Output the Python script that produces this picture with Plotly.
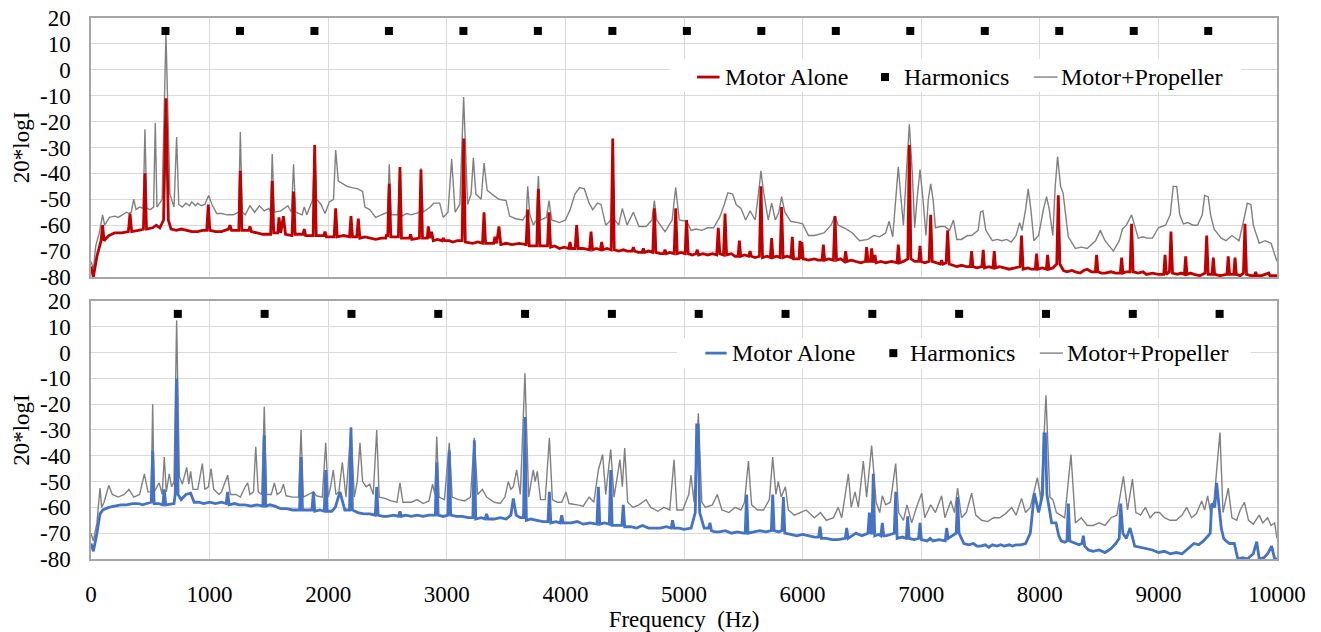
import plotly.graph_objects as go

# ---------------- data ----------------
freq_ticks = [0, 1000, 2000, 3000, 4000, 5000, 6000, 7000, 8000, 9000, 10000]
freq_tick_labels = ["0", "1000", "2000", "3000", "4000", "5000", "6000", "7000", "8000", "9000", "10000"]
db_ticks = [20, 10, 0, -10, -20, -30, -40, -50, -60, -70, -80]
db_tick_labels = ["20", "10", "0", "-10", "-20", "-30", "-40", "-50", "-60", "-70", "-80"]

harmonics_top_f = [628, 1256, 1884, 2512, 3140, 3768, 4396, 5024, 5652, 6280, 6908, 7536, 8164, 8792, 9420]
harmonics_top_db = [15, 15, 15, 15, 15, 15, 15, 15, 15, 15, 15, 15, 15, 15, 15]
harmonics_bot_f = [732, 1464, 2196, 2928, 3660, 4392, 5124, 5856, 6588, 7320, 8052, 8784, 9516]
harmonics_bot_db = [15, 15, 15, 15, 15, 15, 15, 15, 15, 15, 15, 15, 15]

# (frequency Hz, 20*logI)
motor_alone_top = [
    (0, -76), (20, -80), (50, -72), (85, -66), (98, -60), (110, -66), (150, -64), (200, -63), (260, -63),
    (315, -62.5), (329, -55.5), (343, -62.5), (400, -62), (442, -61.5), (455, -40), (468, -61.5), (520, -61),
    (550, -60), (580, -61), (612, -58), (632, -11), (652, -58), (675, -61.5), (720, -62), (760, -61.5), (800, -62),
    (850, -62.5), (900, -62.5), (940, -62), (976, -62), (989, -52), (1002, -62), (1050, -62.5), (1100, -62.5),
    (1160, -61.5), (1172, -60), (1185, -62), (1246, -62), (1259, -39), (1272, -62), (1330, -62), (1340, -60.5),
    (1352, -62.5), (1400, -63), (1450, -63.5), (1515, -63.5),
    (1528, -43), (1541, -63), (1575, -63), (1585, -57), (1600, -63), (1622, -56.5), (1640, -63.5), (1695, -64),
    (1708, -47), (1721, -63.5), (1788, -63.5), (1798, -61.5), (1810, -64), (1873, -64), (1886, -29), (1899, -64),
    (1963, -64), (1973, -62.5), (1985, -64.5), (2050, -64.5), (2063, -53.5), (2076, -64.5), (2130, -64),
    (2180, -64.5), (2192, -56.5), (2205, -64.5), (2241, -64.5), (2254, -57.5), (2267, -65), (2310, -64.5),
    (2350, -65), (2400, -65.5), (2450, -65),
    (2485, -65), (2493, -63.5), (2502, -64.5), (2515, -44), (2528, -64.5), (2592, -64.5), (2605, -37.5),
    (2618, -65), (2685, -65), (2695, -63.5), (2705, -65.5), (2769, -65), (2782, -38.5), (2795, -65), (2835, -65),
    (2844, -60.5), (2858, -65), (2872, -62.5), (2886, -66), (2920, -65.5), (2960, -66), (2970, -65), (2982, -66),
    (3020, -66), (3050, -66.5), (3090, -66),
    (3129, -66), (3142, -26.5), (3156, -66.5), (3220, -67), (3260, -66.5), (3301, -67), (3314, -55), (3327, -67),
    (3360, -67), (3395, -67),
    (3406, -64.5), (3420, -67), (3440, -60.5), (3455, -67.5), (3500, -67), (3550, -67.5), (3610, -67),
    (3669, -67.5), (3682, -54),
    (3695, -68), (3759, -68), (3772, -46), (3785, -68), (3849, -68), (3862, -55), (3875, -68.5), (3910, -68),
    (3950, -69), (3990, -68.5),
    (4028, -69), (4039, -66.5), (4050, -69), (4082, -69), (4095, -60), (4108, -69), (4150, -69), (4203, -69.5),
    (4216, -62.5), (4229, -69.5), (4260, -69), (4295, -69.5), (4306, -66.5), (4317, -69.5), (4350, -69),
    (4386, -69.5), (4399, -26.5), (4412, -69.5), (4450, -70),
    (4488, -69.5), (4520, -70), (4562, -70), (4573, -68.5), (4584, -70), (4615, -70.5), (4646, -70.5),
    (4657, -69), (4668, -70.5), (4700, -70),
    (4737, -70.5), (4750, -53.5), (4763, -70.5), (4800, -71), (4829, -71), (4840, -69.5), (4851, -71),
    (4880, -70.5), (4917, -71),
    (4930, -53.5), (4943, -71), (4975, -70.5), (5009, -71), (5022, -58), (5035, -71), (5070, -71.5), (5101, -71),
    (5112, -69.5), (5123, -71.5), (5160, -71), (5200, -71.5), (5240, -71), (5276, -71.5), (5289, -61),
    (5302, -71), (5333, -71.5), (5346, -55.5), (5359, -71.5), (5400, -71), (5430, -72),
    (5456, -72), (5467, -66), (5478, -72), (5510, -71.5), (5546, -72), (5557, -70), (5568, -72), (5600, -72.5),
    (5636, -72), (5649, -45),
    (5662, -72.5), (5700, -72), (5728, -72.5), (5739, -65), (5750, -72.5), (5780, -72), (5810, -72.5),
    (5823, -53), (5836, -72.5), (5870, -72),
    (5902, -72.5), (5913, -64.5), (5924, -73), (5970, -73), (5978, -66), (5986, -73), (5994, -66.5), (6005, -73),
    (6050, -73.5), (6100, -73), (6130, -73.5), (6164, -73.5), (6175, -67.5), (6186, -73.5), (6220, -73),
    (6260, -73.5), (6273, -56.5), (6286, -73.5), (6320, -73),
    (6352, -74), (6363, -70), (6374, -74), (6410, -73.5), (6450, -74), (6490, -74.5), (6530, -74), (6540, -68.5),
    (6552, -74), (6572, -74),
    (6582, -69), (6594, -74), (6602, -74), (6610, -71.5), (6620, -74.5), (6660, -74), (6700, -74.5),
    (6750, -74), (6796, -74.5),
    (6807, -67.5), (6818, -74.5), (6850, -74), (6887, -73), (6900, -29), (6913, -73), (6945, -74), (6979, -74),
    (6990, -68), (7001, -74),
    (7030, -74.5), (7067, -74), (7080, -56), (7093, -74), (7130, -74.5), (7161, -75), (7172, -73.5), (7183, -75),
    (7210, -74.5), (7223, -62),
    (7236, -75), (7270, -75.5), (7300, -76), (7340, -75.5), (7380, -76), (7414, -76), (7425, -70), (7436, -76),
    (7470, -76.5), (7512, -76), (7523, -69.5), (7534, -76.5), (7570, -76),
    (7605, -76.5), (7616, -70), (7627, -76.5), (7660, -76), (7700, -76.5), (7740, -77), (7790, -76.5),
    (7833, -76), (7846, -64), (7859, -77), (7900, -76.5), (7930, -77), (7962, -77),
    (7973, -71), (7984, -77), (8020, -76.5), (8055, -77), (8066, -71.5), (8077, -77), (8110, -76.5), (8143, -75),
    (8156, -48.5), (8169, -75),
    (8200, -77.5), (8230, -78), (8270, -77.5), (8300, -78), (8340, -78.5), (8370, -77.5), (8400, -77),
    (8435, -78), (8468, -78), (8479, -71.5), (8490, -78), (8520, -78.5), (8550, -78.5), (8600, -78),
    (8640, -78.5), (8679, -78.5),
    (8690, -72.5), (8701, -78.5), (8730, -78), (8761, -78), (8774, -59.5), (8787, -78), (8830, -78.5),
    (8870, -78), (8900, -79), (8950, -78.5), (9000, -79), (9045, -79),
    (9056, -71.5), (9067, -79), (9093, -78), (9106, -62.5), (9119, -78.5), (9160, -79), (9190, -78.5),
    (9219, -79), (9230, -72), (9241, -79),
    (9270, -78.5), (9300, -79), (9350, -79.5), (9394, -78.5), (9407, -64), (9420, -79), (9452, -79),
    (9463, -72.5), (9474, -79), (9520, -79.5), (9578, -79),
    (9589, -72), (9600, -79), (9635, -79), (9646, -72.5), (9657, -79), (9690, -79.5), (9717, -78.5),
    (9730, -59.5), (9743, -79),
    (9780, -79.5), (9810, -79.5), (9820, -78), (9830, -79.5), (9870, -79.5), (9900, -79), (9930, -78.5),
    (9940, -79.5), (10000, -79.5),
]

motor_prop_top = [
    (0, -74), (20, -77), (40, -68), (70, -63), (98, -56), (115, -60), (155, -57), (200, -56.5), (230, -57),
    (260, -56), (300, -55), (320, -55.5), (340, -55), (360, -50), (380, -54), (410, -53), (440, -53.5),
    (455, -23), (470, -53.5), (500, -54), (528, -53),
    (542, -20.5), (556, -53), (600, -50), (632, 14), (665, -48), (700, -53), (722, -26), (740, -52),
    (770, -53), (800, -51.5), (830, -52.5),
    (850, -51), (880, -52.5), (900, -51.5), (930, -52.5), (960, -52), (992, -48.5), (1020, -52), (1060, -55.5),
    (1100, -55.5), (1150, -56), (1200, -56),
    (1245, -55), (1259, -24), (1275, -55), (1300, -56), (1340, -52.5), (1380, -55), (1420, -52.5), (1460, -54.5),
    (1500, -53.5), (1515, -55), (1528, -32.5), (1545, -55), (1600, -54.5), (1660, -52.5), (1690, -55),
    (1708, -36.5), (1725, -55), (1780, -56), (1798, -53), (1820, -56), (1870, -50), (1886, -29), (1902, -50),
    (1940, -52), (1973, -55.5), (2010, -51), (2045, -50), (2063, -31), (2085, -43), (2120, -44), (2160, -45),
    (2200, -45.5), (2250, -46), (2290, -47), (2310, -53), (2350, -54), (2400, -57), (2450, -56), (2500, -55),
    (2515, -36.5), (2530, -56), (2590, -56), (2605, -37.5), (2620, -56.5), (2660, -55.5), (2700, -56),
    (2740, -55.5), (2770, -55), (2782, -38),
    (2800, -55), (2860, -53), (2890, -51.5), (2940, -51.5), (2970, -57), (3010, -55), (3041, -34.5), (3070, -55),
    (3110, -52), (3142, -10.5), (3175, -52), (3205, -48), (3224, -34), (3245, -48), (3290, -50), (3314, -36),
    (3340, -46.5), (3380, -48), (3440, -50), (3500, -50.5), (3530, -56.5), (3580, -57.5), (3640, -58),
    (3670, -56), (3682, -45), (3700, -56), (3730, -60), (3755, -58), (3772, -41), (3790, -58), (3840, -57),
    (3862, -50.5), (3885, -58), (3950, -59), (4000, -58), (4040, -54), (4080, -48), (4120, -45.5), (4160, -46),
    (4200, -51.5), (4230, -54), (4270, -51.5), (4300, -52), (4340, -60), (4385, -58), (4399, -34), (4415, -58),
    (4450, -60), (4480, -53.5), (4520, -60), (4573, -55), (4620, -60.5), (4680, -60.5), (4730, -58),
    (4750, -50.5), (4770, -58), (4840, -62.5), (4900, -58), (4930, -45.5), (4960, -58), (5022, -58.5),
    (5060, -62), (5100, -61.5), (5150, -62), (5200, -61), (5250, -61), (5300, -57), (5340, -52), (5370, -47.5),
    (5410, -48), (5440, -52),
    (5480, -53.5), (5520, -58), (5557, -54.5), (5600, -58), (5630, -47), (5649, -39), (5670, -47), (5710, -58),
    (5739, -51.5), (5770, -58), (5800, -55), (5823, -49), (5850, -55), (5900, -58.5), (5960, -59), (6000, -59.5),
    (6050, -64), (6100, -64), (6180, -63), (6240, -60), (6273, -56.5), (6300, -60), (6370, -61.5), (6420, -63),
    (6480, -66), (6550, -65.5), (6600, -64), (6650, -64.5), (6700, -63), (6730, -58.5), (6760, -64.5),
    (6785, -50), (6807, -37.5), (6830, -50), (6850, -60), (6875, -40), (6900, -21), (6925, -40), (6945, -61),
    (6965, -50), (6990, -38.5), (7015, -50), (7040, -64), (7060, -50), (7080, -44), (7100, -50), (7120, -61),
    (7160, -60.5), (7200, -60.5), (7240, -62), (7272, -58), (7300, -65.5), (7340, -65.5), (7390, -64),
    (7425, -64), (7480, -62), (7500, -55), (7520, -54.5), (7545, -62), (7600, -66), (7640, -65.5), (7680, -66),
    (7720, -65.5), (7760, -66.5),
    (7800, -64), (7830, -59), (7850, -62), (7880, -54), (7902, -46), (7925, -54), (7950, -66), (7990, -64),
    (8030, -54), (8057, -49), (8080, -54), (8110, -64), (8130, -45), (8150, -33.5), (8175, -45), (8196, -47.5),
    (8215, -56), (8240, -64.5), (8300, -69), (8350, -68.5), (8400, -69), (8470, -66), (8510, -62), (8550, -66),
    (8620, -70),
    (8670, -66), (8697, -61.5), (8730, -60), (8774, -56), (8800, -60), (8830, -65), (8870, -64.5), (8900, -65),
    (8950, -65), (9000, -61), (9060, -60), (9100, -56), (9125, -45), (9155, -45), (9180, -56), (9210, -59.5),
    (9250, -59),
    (9290, -60), (9330, -60), (9370, -56), (9390, -48.5), (9420, -49), (9440, -56), (9470, -61.5), (9530, -65),
    (9570, -66), (9620, -64), (9680, -66), (9720, -58), (9750, -51.5), (9780, -52), (9800, -60), (9850, -67),
    (9900, -66), (9950, -67), (10000, -74),
]

motor_alone_bot = [
    (0, -74), (20, -77), (50, -70), (76, -62.5), (100, -61), (150, -60), (200, -59.5), (250, -59), (300, -59),
    (350, -58.5), (400, -58.5), (435, -59), (470, -58.5), (508, -58), (520, -38), (532, -58.5), (570, -58.5),
    (606, -59), (618, -53),
    (630, -59), (700, -58.5), (710, -55), (722, -10), (734, -55), (760, -57), (800, -55), (840, -54.5),
    (870, -58), (910, -58), (950, -58.5), (1000, -58), (1050, -58.5), (1100, -58), (1140, -58.5), (1152, -54),
    (1164, -59), (1210, -58.5), (1250, -59), (1300, -59), (1350, -59.5), (1400, -59),
    (1449, -59.5), (1461, -32), (1473, -59.5), (1510, -59), (1550, -59.5), (1600, -60.5), (1650, -60.5),
    (1700, -61), (1759, -61),
    (1771, -40.5), (1783, -61), (1820, -61), (1863, -61), (1875, -54), (1887, -61.5), (1930, -61),
    (1967, -61.5), (1979, -45.5),
    (1991, -61.5), (2030, -61.5), (2060, -60), (2099, -54), (2140, -61), (2180, -61), (2192, -29), (2204, -61),
    (2250, -62), (2300, -62.5),
    (2350, -62.5), (2397, -63), (2409, -52), (2421, -63), (2460, -63.5), (2500, -63.5), (2550, -63),
    (2593, -63.5), (2605, -61.5), (2617, -63.5),
    (2650, -63), (2700, -63.5), (2750, -63), (2800, -63.5), (2850, -63), (2903, -63), (2915, -42.5), (2927, -63),
    (2970, -63.5), (3009, -63), (3021, -38), (3033, -63),
    (3080, -63.5), (3130, -63.5), (3180, -64), (3220, -64), (3232, -34), (3244, -64.5), (3290, -64),
    (3324, -64.5), (3336, -62.5), (3348, -64.5),
    (3400, -64.5), (3450, -64), (3500, -64.5), (3540, -63), (3561, -56.5), (3585, -63), (3620, -64), (3647, -64),
    (3659, -25), (3671, -65), (3710, -64.5), (3760, -65), (3810, -65.5), (3853, -65.5), (3865, -54), (3877, -66),
    (3920, -65.5), (3957, -66), (3969, -63), (3981, -66),
    (4050, -66), (4100, -65.5), (4150, -66.5), (4210, -66), (4266, -66.5), (4278, -52), (4290, -66.5),
    (4330, -66), (4370, -66.5), (4382, -45.5),
    (4394, -67), (4476, -67), (4488, -59), (4500, -67.5), (4550, -67.5), (4600, -68), (4650, -67),
    (4700, -68), (4750, -68), (4800, -68), (4850, -67.5), (4892, -68),
    (4904, -65), (4916, -68), (4960, -68), (5000, -68.5), (5060, -68), (5095, -62), (5107, -28), (5120, -28),
    (5132, -62),
    (5170, -68), (5207, -68), (5219, -66), (5231, -69), (5260, -69.5), (5300, -69.5), (5350, -69),
    (5400, -70), (5450, -69.5), (5500, -70), (5516, -70), (5528, -55), (5540, -70),
    (5590, -69.5), (5640, -69), (5690, -69.5), (5736, -69), (5748, -55), (5760, -69), (5800, -69.5),
    (5826, -69), (5838, -56), (5850, -70), (5900, -70.5), (5950, -71),
    (6000, -70.5), (6050, -71), (6100, -71.5), (6135, -71.5), (6147, -67.5), (6159, -72), (6200, -72),
    (6250, -72.5), (6300, -72.5), (6360, -72),
    (6372, -68), (6384, -72), (6420, -71), (6450, -70), (6500, -71), (6551, -70), (6563, -62), (6575, -70),
    (6584, -70), (6596, -47),
    (6608, -71), (6640, -70.5), (6660, -71), (6672, -66), (6684, -71), (6700, -71), (6740, -70.5), (6773, -70),
    (6785, -54), (6797, -72),
    (6840, -71.5), (6874, -72), (6886, -63.5), (6898, -72), (6940, -72.5), (6978, -72), (6990, -66),
    (7002, -72.5), (7050, -73), (7075, -72), (7100, -73), (7150, -72.5),
    (7203, -73), (7215, -68), (7227, -72), (7260, -71), (7295, -70), (7307, -56), (7319, -70), (7360, -74),
    (7400, -74.5), (7440, -74), (7470, -75),
    (7500, -75), (7540, -74.5), (7570, -75.5), (7600, -74.5), (7640, -75), (7670, -74.5), (7700, -75),
    (7740, -74.5), (7770, -75), (7800, -74.5), (7840, -74.5), (7880, -74), (7920, -70),
    (7954, -54.5), (7990, -62), (8023, -55), (8035, -31.5), (8047, -31.5), (8060, -55), (8100, -66), (8137, -66),
    (8160, -71), (8180, -73), (8210, -73.5), (8229, -73), (8241, -58.5),
    (8253, -73), (8300, -74), (8330, -74.5), (8355, -74), (8367, -71), (8379, -75), (8410, -76.5), (8450, -77),
    (8500, -76.5), (8550, -77.5), (8600, -76), (8640, -74), (8670, -72),
    (8682, -58.5), (8700, -70), (8730, -72), (8761, -68), (8800, -75), (8850, -75.5), (8900, -76), (8950, -76.5),
    (9000, -77.5), (9050, -77), (9100, -78), (9150, -77.5), (9200, -78), (9250, -76),
    (9300, -74), (9340, -74.5), (9380, -73), (9420, -71), (9437, -70), (9449, -58.5), (9475, -60), (9491, -50.5),
    (9510, -60), (9530, -68), (9550, -72), (9570, -73),
    (9600, -74), (9640, -74), (9670, -80), (9710, -79.5), (9750, -80), (9800, -78), (9829, -73.3), (9850, -80),
    (9890, -79.5), (9920, -78),
    (9955, -75), (9980, -80), (10000, -80),
]

motor_prop_bot = [
    (0, -70), (20, -73), (50, -66), (76, -52.5), (90, -60), (110, -58), (150, -51.5), (180, -55), (230, -56),
    (280, -55), (320, -53), (360, -56), (410, -55), (450, -47), (480, -54), (508, -54), (520, -20), (532, -54),
    (575, -50.5), (600, -55), (618, -40.5), (635, -54), (660, -47), (680, -52), (700, -50), (722, 12.5),
    (745, -48), (770, -51), (807, -44.5), (825, -51), (840, -46), (860, -53), (900, -53), (939, -43), (960, -53),
    (990, -52), (1012, -45), (1035, -53), (1080, -55), (1100, -54), (1152, -47.5), (1175, -55), (1220, -55),
    (1260, -56), (1300, -52), (1321, -50.5), (1340, -55), (1370, -54), (1389, -36.5), (1410, -54), (1440, -55),
    (1461, -21), (1480, -55), (1520, -55), (1546, -50.5), (1570, -55), (1600, -54), (1622, -51), (1645, -55.5),
    (1700, -56), (1750, -56), (1771, -30), (1790, -56), (1830, -55), (1875, -54), (1900, -55.5), (1950, -56),
    (1979, -35), (2000, -56), (2020, -52), (2043, -45.5), (2065, -55), (2090, -54), (2119, -42.5), (2150, -56),
    (2192, -29), (2220, -56), (2245, -50), (2268, -35), (2290, -50), (2320, -52), (2350, -51), (2380, -55),
    (2409, -30), (2430, -56), (2480, -56.5), (2530, -57.5), (2580, -58), (2605, -50.5), (2630, -58), (2700, -58),
    (2750, -57), (2800, -58.5), (2850, -57.5), (2880, -51), (2900, -55), (2915, -32.5), (2935, -56), (2980, -57),
    (3021, -35), (3045, -56), (3100, -57), (3150, -57.5), (3200, -56), (3232, -33), (3260, -55), (3300, -53),
    (3336, -56), (3400, -58), (3450, -58.5), (3490, -56), (3519, -50), (3540, -53), (3561, -52), (3589, -45.5),
    (3620, -55), (3659, -8), (3690, -56), (3729, -45.5), (3745, -50), (3763, -46), (3790, -57), (3830, -57),
    (3865, -33), (3890, -57), (3930, -58), (3969, -58), (4005, -54), (4030, -58.5), (4100, -59), (4150, -59.5),
    (4200, -56), (4240, -58), (4278, -45.5), (4314, -39.5), (4340, -55), (4382, -37.5), (4410, -56),
    (4460, -41.5), (4480, -52), (4500, -37), (4525, -58), (4570, -60), (4620, -59), (4680, -57), (4720, -60),
    (4780, -61.5), (4830, -60), (4880, -61), (4916, -41.5), (4940, -61), (4990, -61), (5040, -55), (5059, -47.5),
    (5085, -58), (5121, -23.5), (5150, -58), (5180, -60), (5240, -59), (5280, -55), (5320, -61), (5380, -62),
    (5430, -60), (5480, -61), (5510, -58), (5543, -42), (5570, -59), (5620, -61), (5670, -61), (5720, -57),
    (5748, -40.5), (5775, -55), (5795, -50), (5820, -56), (5855, -52), (5880, -61), (5930, -63), (5980, -62),
    (6030, -61), (6100, -64), (6150, -62), (6200, -65), (6260, -64), (6300, -60), (6330, -64), (6386, -47),
    (6410, -60), (6442, -54), (6470, -60), (6512, -42), (6540, -56), (6582, -36), (6620, -58), (6650, -62),
    (6672, -55.5), (6700, -59), (6740, -58), (6785, -43), (6810, -62), (6850, -65), (6880, -59), (6920, -66),
    (6960, -60), (7004, -54.5), (7030, -64), (7080, -59), (7120, -62), (7172, -55.5), (7200, -64), (7250, -57.5),
    (7280, -62), (7307, -52.5), (7340, -64), (7380, -62), (7425, -54.5), (7460, -63), (7510, -65), (7560, -65.5),
    (7610, -64), (7660, -64), (7710, -62.5), (7763, -60), (7800, -63), (7846, -56.5), (7880, -62), (7920, -60),
    (7979, -48.5), (8010, -57), (8052, -16.5), (8085, -56), (8110, -57), (8140, -62), (8180, -63), (8210, -64),
    (8263, -39.5), (8300, -66), (8350, -64), (8400, -67), (8450, -67), (8500, -66), (8550, -67), (8600, -64),
    (8650, -63), (8705, -48), (8740, -61), (8781, -49), (8810, -62), (8850, -63), (8890, -60), (8930, -64),
    (8970, -62), (9010, -62), (9050, -64), (9100, -65), (9150, -65), (9200, -63), (9238, -60), (9280, -64),
    (9320, -62.5), (9365, -57.5), (9390, -61), (9415, -55.5), (9440, -62), (9470, -57), (9519, -31), (9545, -62),
    (9589, -52.5), (9620, -64), (9660, -65), (9690, -61), (9725, -58), (9760, -65), (9800, -66.5), (9850, -63),
    (9880, -66), (9920, -64), (9950, -67), (9980, -66), (10000, -72),
]

legend_labels = ["Motor Alone", "Harmonics", "Motor+Propeller"]

# ---------------- styling ----------------
RED = "#C00000"
BLUE = "#4472C4"
GRAY = "#808080"
FONT = "Liberation Serif, Times New Roman, serif"
FS = 23


def split(pairs):
    return [p[0] for p in pairs], [p[1] for p in pairs]


fig = go.Figure()

for pairs, color, width, xa, ya, name in [
    (motor_prop_top, GRAY, 1.4, "x", "y", legend_labels[2]),
    (motor_alone_top, RED, 2.8, "x", "y", legend_labels[0]),
    (motor_prop_bot, GRAY, 1.4, "x2", "y2", legend_labels[2]),
    (motor_alone_bot, BLUE, 2.8, "x2", "y2", legend_labels[0]),
]:
    fx, fy = split(pairs)
    fig.add_trace(go.Scatter(x=fx, y=fy, mode="lines", name=name, xaxis=xa, yaxis=ya,
                             line=dict(color=color, width=width), showlegend=False))

fig.add_trace(go.Scatter(x=harmonics_top_f, y=harmonics_top_db, mode="markers", name=legend_labels[1],
                         xaxis="x", yaxis="y", showlegend=False,
                         marker=dict(symbol="square", size=8, color="black")))
fig.add_trace(go.Scatter(x=harmonics_bot_f, y=harmonics_bot_db, mode="markers", name=legend_labels[1],
                         xaxis="x2", yaxis="y2", showlegend=False,
                         marker=dict(symbol="square", size=8, color="black")))

tick_font = dict(family=FONT, size=FS, color="black")
legend_font = dict(family=FONT, size=24, color="black")
axis_common = dict(range=[0, 10000], tickvals=freq_ticks, showgrid=True, gridcolor="#D9D9D9", gridwidth=1,
                   showline=True, mirror=True, linecolor="#A6A6A6", linewidth=1.5, zeroline=False,
                   ticks="", fixedrange=True, automargin=False)
yaxis_common = dict(range=[-80, 20], tickvals=db_ticks, ticktext=db_tick_labels, showgrid=True,
                    gridcolor="#D9D9D9", gridwidth=1, showline=True, mirror=True, linecolor="#A6A6A6",
                    linewidth=1.5, zeroline=False, ticks="", ticklabelstandoff=14, tickfont=tick_font,
                    automargin=False,
                    title=dict(text="20*logI", font=tick_font, standoff=4))

fig.update_layout(
    width=1321, height=632,
    margin=dict(l=91, r=44, t=18, b=73),
    paper_bgcolor="white", plot_bgcolor="white",
    font=dict(family=FONT, size=FS, color="black"),
    xaxis=dict(axis_common, anchor="y", showticklabels=False),
    yaxis=dict(yaxis_common, domain=[0.5213, 1.0], anchor="x"),
    xaxis2=dict(axis_common, anchor="y2", ticktext=freq_tick_labels, showticklabels=True,
                ticklabelstandoff=14, tickfont=tick_font,
                title=dict(text="Frequency  (Hz)", font=tick_font, standoff=10)),
    yaxis2=dict(yaxis_common, domain=[0.0, 0.4769], anchor="x2"),
    showlegend=False,
)

# ---------------- manual legends ----------------
shapes = []
annotations = []
legend_specs = [
    # xref, yref, box x0, x1, y0, y1, y_line, y_text, line1 x0,x1, text1 x, square x, text2 x, line3 x0,x1, text3 x, color
    ("x", "y", 4880, 9700, 4.2, -8.5, -2.8, -2.6, 5110, 5300, 5330, 6695, 6835, 7950, 8150, 8165, RED),
    ("x2", "y2", 4940, 9780, 5.7, -6.2, -0.2, 0.0, 5180, 5360, 5390, 6765, 6890, 8000, 8195, 8215, BLUE),
]
for (xr, yr, bx0, bx1, by0, by1, yl, yt, l0, l1, t1, sq, t2, g0, g1, t3, col) in legend_specs:
    shapes.append(dict(type="rect", xref=xr, yref=yr, x0=bx0, x1=bx1, y0=by0, y1=by1,
                       fillcolor="white", line=dict(width=0), layer="between"))
    shapes.append(dict(type="line", xref=xr, yref=yr, x0=l0, x1=l1, y0=yl, y1=yl,
                       line=dict(color=col, width=2.8)))
    shapes.append(dict(type="rect", xref=xr, yref=yr, xsizemode="pixel", ysizemode="pixel",
                       xanchor=sq, yanchor=yl, x0=-4, x1=4, y0=-4, y1=4,
                       fillcolor="black", line=dict(width=0)))
    shapes.append(dict(type="line", xref=xr, yref=yr, x0=g0, x1=g1, y0=yl, y1=yl,
                       line=dict(color=GRAY, width=1.4)))
    for tx, label in [(t1, legend_labels[0]), (t2, legend_labels[1]), (t3, legend_labels[2])]:
        annotations.append(dict(xref=xr, yref=yr, x=tx, y=yt, text=label, showarrow=False,
                                xanchor="left", yanchor="middle", font=legend_font))

fig.update_layout(shapes=shapes, annotations=annotations)

fig.write_html("out.html")
